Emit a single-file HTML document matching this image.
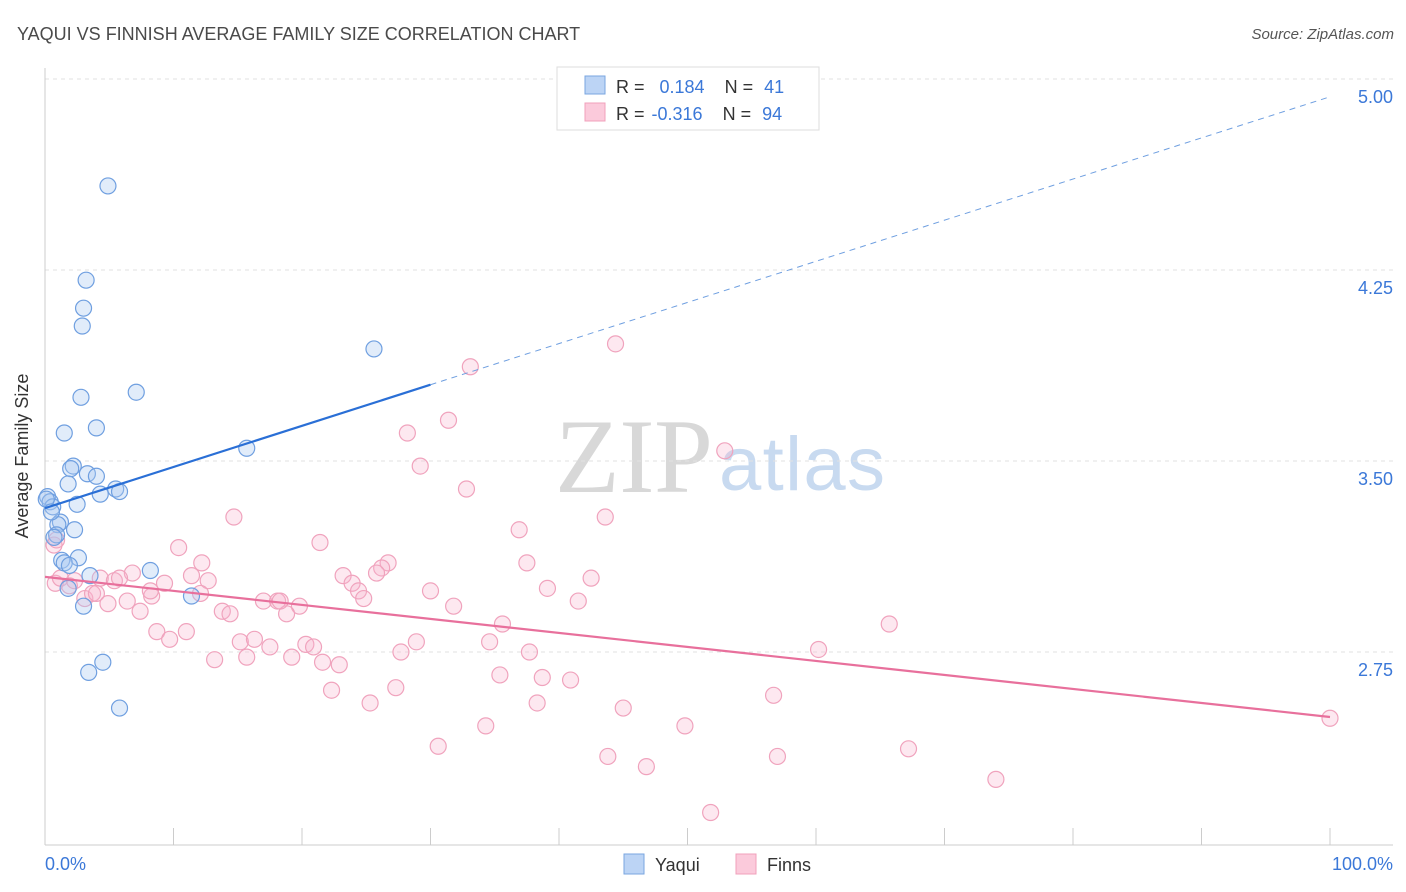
<!DOCTYPE html>
<html><head><meta charset="utf-8"><style>
body{margin:0;background:#fff;font-family:"Liberation Sans",sans-serif;}
svg{display:block}
</style></head><body>
<svg id="chart" width="1406" height="892" xmlns="http://www.w3.org/2000/svg">
<text x="17" y="40" font-size="18" fill="#4a4a4a">YAQUI VS FINNISH AVERAGE FAMILY SIZE CORRELATION CHART</text>
<text x="1394" y="39" font-size="15" fill="#555" font-style="italic" text-anchor="end">Source: ZipAtlas.com</text>
<g>
<text x="634" y="492" font-size="106" font-family="Liberation Serif,serif" fill="#d8d8d8" text-anchor="middle" textLength="158">ZIP</text>
<text x="802" y="490" font-size="76" fill="#c8daf0" text-anchor="middle" textLength="166">atlas</text>
</g>
<g id="grid"></g>
<g id="axes"></g>
<g id="pinkPts"></g>
<g id="bluePts"></g>
<g id="lines"></g>
<text x="28" y="456" font-size="18" fill="#333" text-anchor="middle" transform="rotate(-90 28 456)">Average Family Size</text>
<text x="45" y="870" font-size="18" fill="#3b78d8">0.0%</text>
<text x="1393" y="870" font-size="18" fill="#3b78d8" text-anchor="end">100.0%</text>
<g>
<rect x="557" y="67" width="262" height="63" fill="#fff" stroke="#ddd"/>
<rect x="585" y="76" width="20" height="18" fill="#bcd4f5" stroke="#7aa6e0"/>
<rect x="585" y="103" width="20" height="18" fill="#fbcadb" stroke="#f0a0bb"/>
<text x="616" y="93" font-size="18" fill="#333">R = <tspan fill="#3b78d8" dx="10">0.184</tspan><tspan dx="20" fill="#333">N = </tspan><tspan fill="#3b78d8" dx="6">41</tspan></text>
<text x="616" y="120" font-size="18" fill="#333">R = <tspan fill="#3b78d8" dx="2">-0.316</tspan><tspan dx="20" fill="#333">N = </tspan><tspan fill="#3b78d8" dx="6">94</tspan></text>
</g>
<g>
<rect x="624" y="854" width="20" height="20" fill="#bcd4f5" stroke="#7aa6e0"/>
<text x="655" y="871" font-size="18" fill="#333">Yaqui</text>
<rect x="736" y="854" width="20" height="20" fill="#fbcadb" stroke="#f0a0bb"/>
<text x="767" y="871" font-size="18" fill="#333">Finns</text>
</g>
</svg>
<script>
const yTicks=[5.00,4.25,3.50,2.75];
const xTicks=[0,10,20,30,40,50,60,70,80,90,100];
const yaquiX=[4.9,3.2,3.0,2.9,25.6,7.1,2.8,4.0,1.5,15.7,2.2,2.0,3.3,4.0,1.8,5.5,5.8,4.3,0.2,0.4,2.5,0.6,1.2,1.0,2.3,0.9,0.7,2.6,1.3,1.5,1.9,8.2,3.5,1.8,11.4,3.0,4.5,3.4,5.8,0.1,0.5];
const yaquiY=[4.58,4.21,4.10,4.03,3.94,3.77,3.75,3.63,3.61,3.55,3.48,3.47,3.45,3.44,3.41,3.39,3.38,3.37,3.36,3.34,3.33,3.32,3.26,3.25,3.23,3.21,3.20,3.12,3.11,3.10,3.09,3.07,3.05,3.00,2.97,2.93,2.71,2.67,2.53,3.35,3.30];
const finnsX=[44.4,33.1,31.4,28.2,52.9,29.2,32.8,14.7,43.6,36.9,21.4,10.4,37.5,12.2,26.7,26.2,25.8,23.2,11.4,6.8,12.7,42.5,23.9,9.3,39.1,24.4,30.0,24.8,12.1,17.0,18.1,19.8,31.8,41.5,8.3,6.4,4.9,3.1,3.7,7.4,13.8,14.4,18.8,35.6,65.7,8.7,11.0,9.7,15.2,16.3,17.5,20.3,20.9,28.9,27.7,34.6,37.7,60.2,13.2,15.7,19.2,21.6,22.9,35.4,38.7,40.9,27.3,22.3,56.7,25.3,38.3,45.0,34.3,49.8,30.6,67.2,43.8,57.0,46.8,74.0,100,51.8,0.8,1.2,1.9,2.3,4.3,5.4,5.8,4.0,8.2,0.7,0.9,18.3];
const finnsY=[3.96,3.87,3.66,3.61,3.54,3.48,3.39,3.28,3.28,3.23,3.18,3.16,3.10,3.10,3.10,3.08,3.06,3.05,3.05,3.06,3.03,3.04,3.02,3.02,3.00,2.99,2.99,2.96,2.98,2.95,2.95,2.93,2.93,2.95,2.97,2.95,2.94,2.96,2.98,2.91,2.91,2.90,2.90,2.86,2.86,2.83,2.83,2.80,2.79,2.80,2.77,2.78,2.77,2.79,2.75,2.79,2.75,2.76,2.72,2.73,2.73,2.71,2.70,2.66,2.65,2.64,2.61,2.60,2.58,2.55,2.55,2.53,2.46,2.46,2.38,2.37,2.34,2.34,2.30,2.25,2.49,2.12,3.02,3.04,3.01,3.03,3.04,3.03,3.04,2.98,2.99,3.17,3.19,2.95];
const yaquiTrend=[3.315,4.93];
const finnsTrend=[3.045,2.495];
const NS="http://www.w3.org/2000/svg";
const X=v=>45+v*12.85;
const Y=v=>461-(v-3.5)*254.7;
function mk(tag,attrs,parent){const e=document.createElementNS(NS,tag);for(const k in attrs)e.setAttribute(k,attrs[k]);document.getElementById(parent).appendChild(e);return e;}
yTicks.forEach(t=>{
 const l=mk('line',{x1:45,x2:1393,y1:Y(t),y2:Y(t),stroke:'#e2e2e2','stroke-dasharray':'4,4'},'grid');
 
 
 const tx=mk('text',{x:1393,y:Y(t)+24,'font-size':18,fill:'#3b78d8','text-anchor':'end'},'grid');
 tx.textContent=t.toFixed(2);
 
 
});
mk('line',{x1:45,x2:45,y1:68,y2:845,stroke:'#ccc'},'axes');
mk('line',{x1:45,x2:1393,y1:845,y2:845,stroke:'#ccc'},'axes');
xTicks.forEach(t=>{
 const l=mk('line',{x1:X(t),x2:X(t),y1:828,y2:845,stroke:'#ccc'},'axes');
 
 
});
finnsX.forEach((v,i)=>{
 const c=mk('circle',{cx:X(v),cy:Y(finnsY[i]),r:8,fill:'rgba(248,180,204,0.3)',stroke:'#f0a3bd','stroke-width':1.2},'pinkPts');
 
 
});
yaquiX.forEach((v,i)=>{
 const c=mk('circle',{cx:X(v),cy:Y(yaquiY[i]),r:8,fill:'rgba(170,200,242,0.35)',stroke:'#6f9fe0','stroke-width':1.2},'bluePts');
 
 
});
const bAt=p=>yaquiTrend[0]+(yaquiTrend[1]-yaquiTrend[0])*p/100;
let l1=mk('line',{x1:X(0),y1:Y(bAt(0)),x2:X(30),y2:Y(bAt(30)),stroke:'#2a6fd6','stroke-width':2.2},'lines');


let l2=mk('line',{x1:X(30),y1:Y(bAt(30)),x2:X(100),y2:Y(bAt(100)),stroke:'#6f9fe0','stroke-width':1,'stroke-dasharray':'6,5'},'lines');


let l3=mk('line',{x1:X(0),y1:Y(finnsTrend[0]),x2:X(100),y2:Y(finnsTrend[1]),stroke:'#e8709c','stroke-width':2.2},'lines');


</script>
</body></html>
